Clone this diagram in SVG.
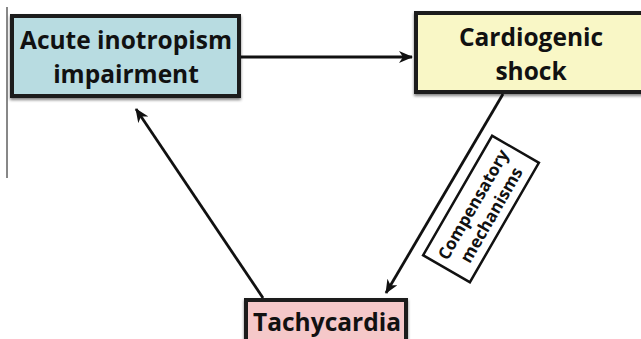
<svg xmlns="http://www.w3.org/2000/svg" width="641" height="339" viewBox="0 0 641 339">
<style>
.box{stroke:#1a1a1a;stroke-width:4}
.lbl{font-family:"Open Sans","Noto Sans",sans-serif;font-weight:bold;font-size:24.5px;fill:#111;text-anchor:middle}
.sm{font-family:"Open Sans","Noto Sans",sans-serif;font-weight:bold;font-size:17px;fill:#111;text-anchor:middle}
.con{stroke:#111;stroke-width:2.8;fill:none}
</style>
<defs>
<filter id="sh" x="-10%" y="-10%" width="120%" height="130%">
<feGaussianBlur in="SourceAlpha" stdDeviation="1.5"/>
<feOffset dx="0" dy="1.5" result="b"/>
<feComponentTransfer><feFuncA type="linear" slope="0.5"/></feComponentTransfer>
<feMerge><feMergeNode/><feMergeNode in="SourceGraphic"/></feMerge>
</filter>
<marker id="ah" viewBox="0 0 14 12" refX="13" refY="6" markerWidth="14" markerHeight="12" markerUnits="userSpaceOnUse" orient="auto">
<path d="M0,0 L14,6 L0,12 L4,6 z" fill="#111"/>
</marker>
</defs>
<rect width="641" height="339" fill="#fff"/>
<line x1="7" y1="7" x2="7" y2="178" stroke="#111" stroke-width="1"/>
<g id="connectors">
<line class="con" x1="240" y1="57" x2="412" y2="57" marker-end="url(#ah)"/>
<line class="con" x1="503" y1="94" x2="386" y2="293" marker-end="url(#ah)"/>
<line class="con" x1="263" y1="298" x2="136" y2="109" marker-end="url(#ah)"/>
</g>
<g id="acute">
<rect class="box" x="12" y="16" width="227" height="80" fill="#b8dce1" filter="url(#sh)"/>
<text class="lbl" x="126" y="49">Acute inotropism</text>
<text class="lbl" x="126" y="83">impairment</text>
</g>
<g id="shock">
<rect class="box" x="416" y="13" width="232" height="79" fill="#f9f7c6" filter="url(#sh)"/>
<text class="lbl" x="531" y="46">Cardiogenic</text>
<text class="lbl" x="531" y="80">shock</text>
</g>
<g id="tachy">
<rect class="box" x="246" y="300" width="160" height="50" fill="#f5c8c9" filter="url(#sh)"/>
<text class="lbl" x="327" y="331">Tachycardia</text>
</g>
<g id="comp" transform="translate(481,209) rotate(-60)">
<rect x="-69" y="-27" width="138" height="54" fill="#fff" stroke="#111" stroke-width="2.5"/>
<text class="sm" x="0" y="-3">Compensatory</text>
<text class="sm" x="0" y="18">mechanisms</text>
</g>
</svg>
